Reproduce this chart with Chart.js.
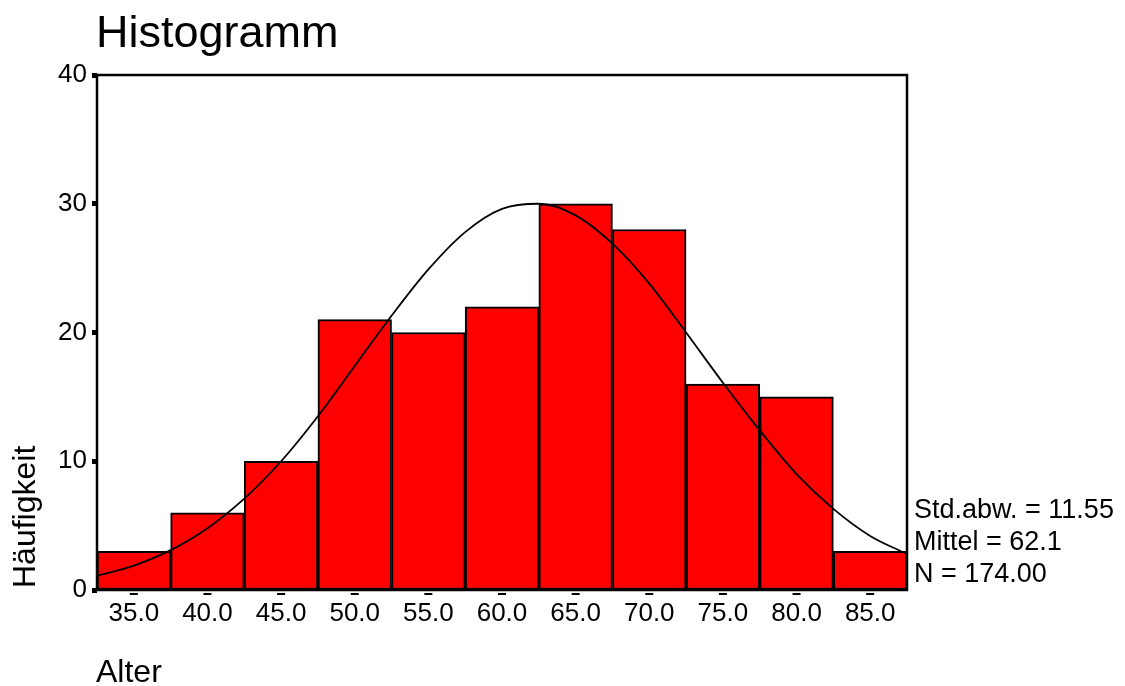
<!DOCTYPE html>
<html>
<head>
<meta charset="utf-8">
<script src="https://cdn.jsdelivr.net/npm/chart.js@4/dist/chart.umd.min.js"></script>
<style>
  body { margin: 0; background: #fff; }
  #histo { display: block; }
</style>
</head>
<body>
<canvas id="histo" width="1125" height="686"></canvas>
<script>
// bins (class midpoints) and counts
const binCenters = [35, 40, 45, 50, 55, 60, 65, 70, 75, 80, 85];
const binCounts = [3, 6, 10, 21, 20, 22, 30, 28, 16, 15, 3];
const binLabels = ['35.0', '40.0', '45.0', '50.0', '55.0', '60.0', '65.0', '70.0', '75.0', '80.0', '85.0'];

// normal curve
const curveX = [32.5, 35, 37.5, 40, 42.5, 45, 47.5, 50, 52.5, 55, 57.5, 60, 62.5, 65, 67.5, 70, 72.5, 75, 77.5, 80, 82.5, 85, 87.5];
const curveY = [1.1, 1.9, 3.1, 4.8, 7.1, 10.0, 13.5, 17.4, 21.3, 24.9, 27.8, 29.6, 30.0, 29.1, 26.9, 23.8, 20.0, 16.1, 12.4, 9.0, 6.3, 4.2, 2.8];

const yTicks = [0, 10, 20, 30, 40];

const titleText = 'Histogramm';
const xTitle = 'Alter';
const yTitle = 'Häufigkeit';
const statLines = ['Std.abw. = 11.55', 'Mittel = 62.1', 'N = 174.00'];

const FONT = "'Liberation Sans', Arial, sans-serif";
Chart.defaults.font.family = FONT;
Chart.defaults.color = '#000';

// frame, x tick dashes and the free texts
const decor = {
    id: 'decor',
    afterDatasetsDraw(chart) {
        const ctx = chart.ctx;
        const a = chart.chartArea;
        const xs = chart.scales.x;
        ctx.save();
        ctx.strokeStyle = '#000';
        ctx.lineWidth = 2.5;
        ctx.strokeRect(a.left, a.top, a.right - a.left, a.bottom - a.top);

        ctx.fillStyle = '#000';
        binCenters.forEach(v => {
            const px = xs.getPixelForValue(v);
            ctx.fillRect(px - 4, a.bottom + 3, 8, 2);
        });

        ctx.textBaseline = 'alphabetic';
        ctx.textAlign = 'left';
        ctx.font = '45px ' + FONT;
        ctx.fillText(titleText, 96, 47);

        ctx.font = '32px ' + FONT;
        ctx.fillText(xTitle, 96, 682);

        ctx.save();
        ctx.translate(35, 588);
        ctx.rotate(-Math.PI / 2);
        ctx.fillText(yTitle, 0, 0);
        ctx.restore();

        ctx.font = '27px ' + FONT;
        statLines.forEach((s, i) => {
            ctx.fillText(s, 914, 518 + i * 32);
        });
        ctx.restore();
    }
};

new Chart(document.getElementById('histo'), {
    type: 'bar',
    data: {
        datasets: [{
            type: 'line',
            data: curveX.map((x, i) => ({ x: x, y: curveY[i] })),
            borderColor: '#000',
            borderWidth: 1.8,
            pointRadius: 0,
            fill: false,
            cubicInterpolationMode: 'monotone',
            order: 0
        }, {
            type: 'bar',
            data: binCenters.map((x, i) => ({ x: x, y: binCounts[i] })),
            backgroundColor: '#ff0000',
            borderColor: '#000',
            borderWidth: 2,
            borderSkipped: false,
            barPercentage: 1,
            categoryPercentage: 1,
            order: 1
        }]
    },
    options: {
        responsive: false,
        animation: false,
        devicePixelRatio: 1,
        layout: { padding: { left: 0, top: 75, right: 218, bottom: 0 } },
        plugins: { legend: { display: false }, tooltip: { enabled: false } },
        scales: {
            x: {
                type: 'linear',
                min: 32.5,
                max: 87.5,
                offset: false,
                afterFit: s => { s.height = 96; },
                afterBuildTicks: s => { s.ticks = binCenters.map(v => ({ value: v })); },
                grid: { display: false, drawTicks: false },
                border: { display: false },
                ticks: {
                    font: { size: 26 },
                    color: '#000',
                    padding: 8,
                    maxRotation: 0,
                    autoSkip: false,
                    callback: (v) => binLabels[binCenters.indexOf(v)]
                }
            },
            y: {
                min: 0,
                max: 40,
                afterFit: s => { s.width = 97; },
                afterBuildTicks: s => { s.ticks = yTicks.map(v => ({ value: v })); },
                grid: {
                    drawOnChartArea: false,
                    drawTicks: true,
                    tickLength: 5,
                    tickWidth: 5,
                    tickColor: '#000'
                },
                border: { display: false },
                ticks: {
                    font: { size: 26 },
                    color: '#000',
                    padding: 5
                }
            }
        }
    },
    plugins: [decor]
});
</script>
</body>
</html>
